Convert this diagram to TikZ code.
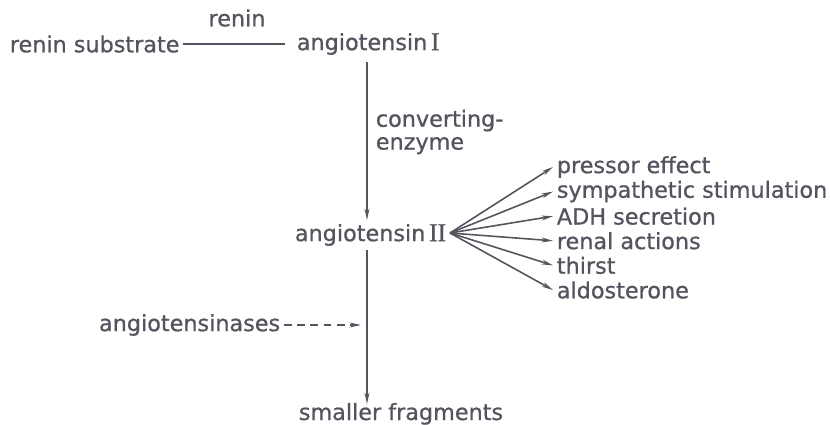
\documentclass[tikz,border=0pt]{standalone}
\usepackage{fontspec}
\setmainfont{DejaVu Sans}[RawFeature={embolden=0.8}]
\newfontfamily\numfont{Liberation Serif}[Scale=1.15,RawFeature={embolden=0.8}]
\usetikzlibrary{arrows.meta}
\begin{document}
\begin{tikzpicture}[x=0.02cm,y=-0.02cm,>={Stealth[length=6.5pt,width=2.8pt]}]
\tikzset{
  term/.style={inner sep=2pt, text=inkgray, font=\fontsize{12.7}{14}\selectfont},
  link/.style={draw=inkgray, line width=.9pt},
  hint/.style={link, dash pattern=on 4.5pt off 3pt}
}

\definecolor{inkgray}{RGB}{84,84,94}

\useasboundingbox (0,0) rectangle (830,425);

\node[term,anchor=west] (sub) at (6,44) {renin substrate};
\node[term,anchor=west] (ang1) at (293,44) {angiotensin\,{\numfont I}};
\node[term] (renin) at (237,18) {renin};
\node[term,anchor=west,align=left] (conv) at (372,132) {converting-\\[-1pt]enzyme};
\node[term,anchor=east] (ang2) at (450,235) {angiotensin\,{\numfont II}};
\node[term,anchor=east] (ases) at (284,325) {angiotensinases};
\node[term,anchor=base west] (frag) at (295,420) {smaller fragments};
\coordinate (cut) at (361,325);

\foreach \n/\t [count=\k from 0] in {pres/pressor effect,symp/sympathetic stimulation,adh/ADH secretion,
    ren/renal actions,thir/thirst,aldo/aldosterone}
  \node[term,anchor=west] (\n) at (553,167+24.6*\k) {\t};

\draw[link,shorten >=4.5pt] (sub) -- (ang1);
\draw[link,->] (ang1.south -| 367,0) ++(0,3) -- (367,220);
\draw[link,->] (367,250) -- (367,404);
\draw[hint,->] (ases) -- (cut);

\foreach \n in {pres,symp,adh,ren,thir,aldo}
  \draw[link,->] (ang2.east) ++(0,-2) -- (\n.west);
\end{tikzpicture}
\end{document}
